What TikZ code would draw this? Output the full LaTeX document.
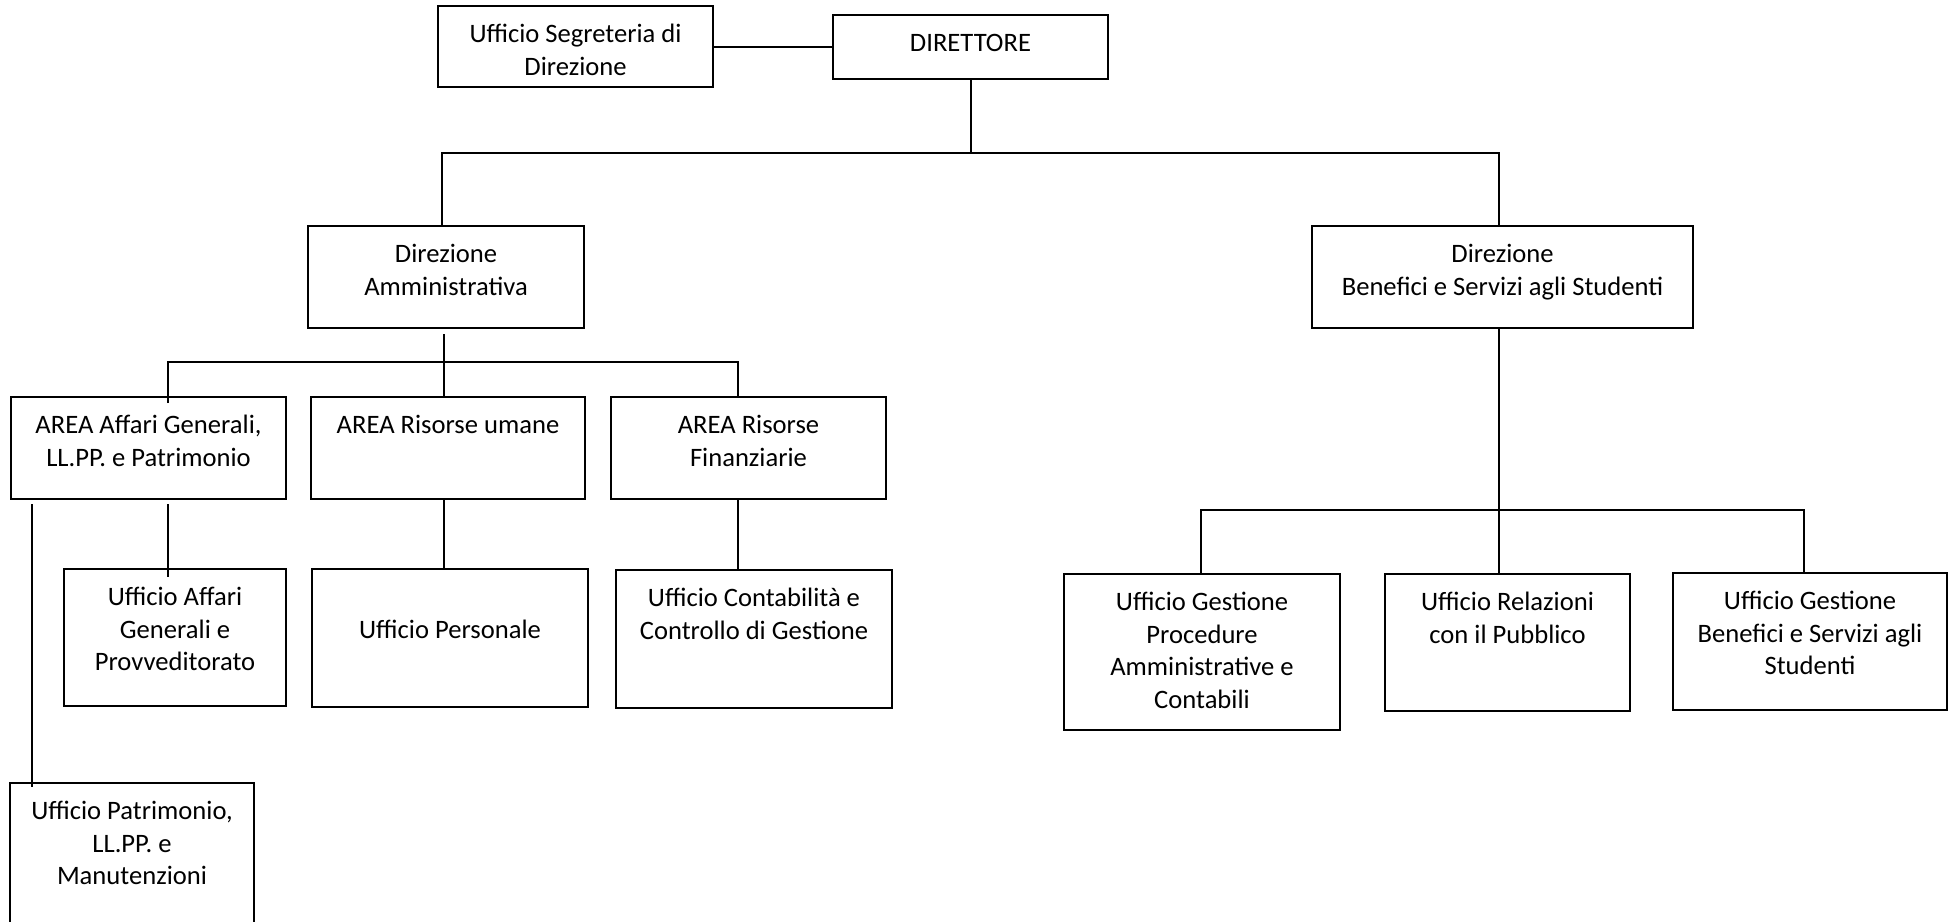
\documentclass[tikz,border=0pt]{standalone}
\usepackage{fontspec}
\setmainfont{Carlito}
\newcommand{\tbx}[3]{\parbox[c][#2pt][t]{#1pt}{\centering\fontsize{26.6}{32.5}\selectfont\vspace*{14pt}\strut #3\par}}
\tikzset{
  bx/.style={draw, line width=2.2pt, inner sep=0pt, outer sep=0pt, anchor=north west},
  ln/.style={line width=2pt},
}
\begin{document}
\begin{tikzpicture}[x=1pt,y=-1pt]
\clip (0,0) rectangle (1956,921);
\fill[white] (0,0) rectangle (1956,921);
% boxes
\node[bx] (seg) at (438,6) {\tbx{275}{81}{Ufficio Segreteria di\\Direzione}};
\node[bx] (dir) at (833,15) {\tbx{275}{64}{DIRETTORE}};
\node[bx] (amm) at (308,226) {\tbx{276}{102}{Direzione\\Amministrativa}};
\node[bx] (ben) at (1312,226) {\tbx{381}{102}{Direzione\\Benefici e Servizi agli Studenti}};
\node[bx] (ag) at (11,397) {\tbx{275}{102}{AREA Affari Generali,\\LL.PP. e Patrimonio}};
\node[bx] (aru) at (311,397) {\tbx{274}{102}{AREA Risorse umane}};
\node[bx] (arf) at (611,397) {\tbx{275}{102}{AREA Risorse\\Finanziarie}};
\node[bx] (uag) at (64,569) {\tbx{222}{137}{Ufficio Affari\\Generali e\\Provveditorato}};
\node[bx] (up) at (312,569) {\tbx{276}{138}{\mbox{}\\Ufficio Personale}};
\node[bx] (uc) at (616,570) {\tbx{276}{138}{Ufficio Contabilità e\\Controllo di Gestione}};
\node[bx] (pat) at (10,783) {\tbx{244}{170}{Ufficio Patrimonio,\\LL.PP. e\\Manutenzioni}};
\node[bx] (ugp) at (1064,574) {\tbx{276}{156}{Ufficio Gestione\\Procedure\\Amministrative e\\Contabili}};
\node[bx] (ur) at (1385,574) {\tbx{245}{137}{Ufficio Relazioni\\con il Pubblico}};
\node[bx] (ugb) at (1673,573) {\tbx{274}{137}{Ufficio Gestione\\Benefici e Servizi agli\\Studenti}};
% junctions
\coordinate (j1) at (970.5,153);
\coordinate (j2) at (444,362);
\coordinate (j3) at (1498.5,510);
% connectors
\draw[ln] (seg.east) -- (seg.east -| dir.west);
\draw[ln] (dir.south) -- (j1);
\draw[ln] ([xshift=-4pt]amm.north) |- (j1) -| ([xshift=-4pt]ben.north);
\draw[ln] ([xshift=-2pt,yshift=-6pt]amm.south) -- ([xshift=-4pt]aru.north);
\draw[ln] ([xshift=19.5pt,yshift=-6pt]ag.north) |- (j2) -| ([xshift=-10.5pt]arf.north);
\draw[ln] ([xshift=19.5pt,yshift=-5pt]ag.south) -- ([xshift=-7pt,yshift=-8pt]uag.north);
\draw[ln] ([xshift=-116.5pt,yshift=-5pt]ag.south) -- ([xshift=-100pt,yshift=-4pt]pat.north);
\draw[ln] ([xshift=-4pt]aru.south) -- ([xshift=-6pt]up.north);
\draw[ln] ([xshift=-10.5pt]arf.south) -- ([xshift=-16pt]uc.north);
\draw[ln] ([xshift=-4pt]ben.south) -- (j3);
\draw[ln] ([xshift=-1pt]ugp.north) |- (j3) -| ([xshift=-6pt]ugb.north);
\draw[ln] (j3) -- ([xshift=-9pt]ur.north);
\end{tikzpicture}
\end{document}
